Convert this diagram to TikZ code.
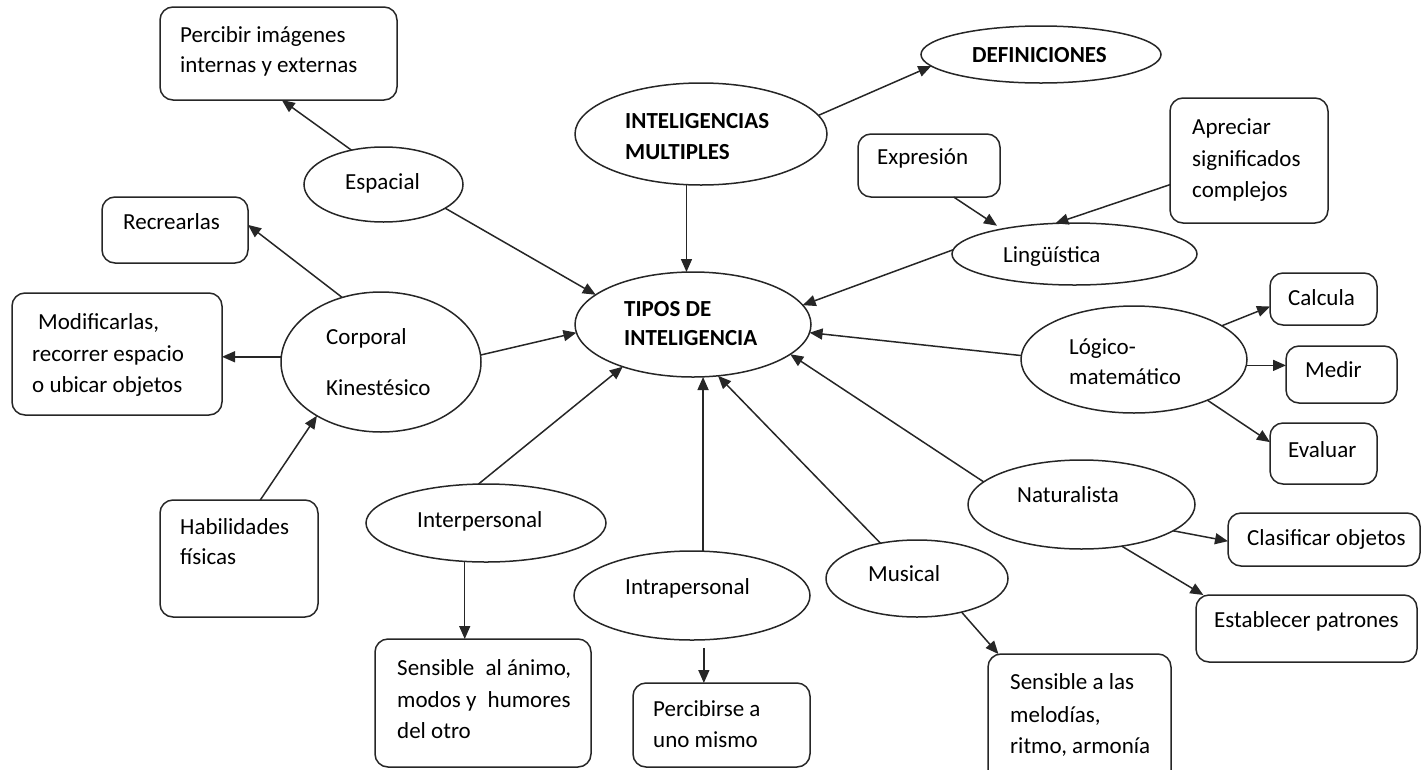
\documentclass[tikz,border=0pt]{standalone}
\usepackage{fontspec}
\setmainfont{Carlito}
\usetikzlibrary{shapes.geometric,arrows.meta,calc}
\begin{document}
\begin{tikzpicture}[x=1pt,y=-1pt,
  shp/.style={draw=black!85,line width=1.5pt,inner sep=0pt,outer sep=0pt},
  ell/.style={shp,ellipse},
  box/.style={shp,rectangle,rounded corners=13pt},
  arr/.style={line width=1.5pt,draw=black!85,-{Triangle[length=13pt,width=11pt]}},
  txt/.style={anchor=base west,inner sep=0pt,font=\fontsize{23}{30}\selectfont},
  btxt/.style={anchor=base west,inner sep=0pt,font=\fontsize{23}{30}\selectfont\bfseries}]
\useasboundingbox (0,0) rectangle (1422,769);
\clip (0,0) rectangle (1422,769);
% shapes
\node[box,minimum width=237pt,minimum height=93pt] (perc) at (278.5,53.5) {};
\node[ell,minimum width=159pt,minimum height=75pt] (esp) at (383.5,184.5) {};
\node[box,minimum width=146pt,minimum height=66pt] (recr) at (175,230) {};
\node[box,minimum width=210pt,minimum height=122pt] (modi) at (117,354) {};
\node[ell,minimum width=200pt,minimum height=140pt] (corp) at (381,362) {};
\node[box,minimum width=158pt,minimum height=117pt] (habi) at (239,558.5) {};
\node[ell,minimum width=252pt,minimum height=102pt] (intm) at (701,134) {};
\node[ell,minimum width=240pt,minimum height=57pt] (defi) at (1041,54.5) {};
\node[box,minimum width=142pt,minimum height=63pt] (expr) at (929,165.5) {};
\node[box,minimum width=158pt,minimum height=125pt] (apre) at (1249,160.5) {};
\node[ell,minimum width=245pt,minimum height=62pt] (ling) at (1074.5,254) {};
\node[ell,minimum width=236pt,minimum height=105pt] (tipos) at (693,324.5) {};
\node[ell,minimum width=240pt,minimum height=78pt] (inter) at (486,523) {};
\node[box,minimum width=216pt,minimum height=128pt] (sensa) at (483,703) {};
\node[ell,minimum width=236pt,minimum height=89pt] (intra) at (692,595.5) {};
\node[box,minimum width=177pt,minimum height=84pt] (percb) at (721.5,725) {};
\node[ell,minimum width=182pt,minimum height=77pt] (musi) at (917,578.5) {};
\node[box,minimum width=183pt,minimum height=146pt] (sensb) at (1079.5,727) {};
\node[ell,minimum width=227pt,minimum height=89pt] (natu) at (1081.5,504.5) {};
\node[box,minimum width=192pt,minimum height=53pt] (clas) at (1324,539.5) {};
\node[box,minimum width=221pt,minimum height=67pt] (esta) at (1306.5,628.5) {};
\node[ell,minimum width=226pt,minimum height=107pt] (logi) at (1134,359.5) {};
\node[box,minimum width=107pt,minimum height=52pt] (calc) at (1323.5,299) {};
\node[box,minimum width=111pt,minimum height=57pt] (medi) at (1341.5,374.5) {};
\node[box,minimum width=107pt,minimum height=61pt] (eval) at (1323.5,453.5) {};
% texts
\node[txt] (tperca) at (180,42) {Percibir imágenes};
\node[txt] (tpercb) at (180,72) {internas y externas};
\node[txt] (tesp) at (345,189) {Espacial};
\node[txt] (trecr) at (123,229) {Recrearlas};
\node[txt] (tmodia) at (38,329) {Modificarlas,};
\node[txt] (tmodib) at (32,361) {recorrer espacio};
\node[txt] (tmodic) at (32,392) {o ubicar objetos};
\node[txt] (tcorpa) at (326,344) {Corporal};
\node[txt] (tcorpb) at (326,395) {Kinestésico};
\node[txt] (thabia) at (180,534) {Habilidades};
\node[txt] (thabib) at (180,564) {físicas};
\node[btxt] (tintma) at (625,128) {INTELIGENCIAS};
\node[btxt] (tintmb) at (625,159) {MULTIPLES};
\node[btxt] (tdefi) at (972,62) {DEFINICIONES};
\node[txt] (texpr) at (877,164) {Expresión};
\node[txt] (taprea) at (1192,134) {Apreciar};
\node[txt] (tapreb) at (1192,166) {significados};
\node[txt] (taprec) at (1192,197) {complejos};
\node[txt] (tling) at (1003,262) {Lingüística};
\node[btxt] (ttiposa) at (624,316) {TIPOS DE};
\node[btxt] (ttiposb) at (624,345) {INTELIGENCIA};
\node[txt] (tlogia) at (1069,354) {Lógico-};
\node[txt] (tlogib) at (1069,384) {matemático};
\node[txt] (tcalc) at (1288,305) {Calcula};
\node[txt] (tmedi) at (1305,377) {Medir};
\node[txt] (teval) at (1288,457) {Evaluar};
\node[txt] (tnatu) at (1017,502) {Naturalista};
\node[txt] (tclas) at (1247,545) {Clasificar objetos};
\node[txt] (testa) at (1214,627) {Establecer patrones};
\node[txt] (tinter) at (417,527) {Interpersonal};
\node[txt] (tsensaa) at (397,675) {Sensible\hspace{6pt} al ánimo,};
\node[txt] (tsensab) at (397,707) {modos y\hspace{6pt} humores};
\node[txt] (tsensac) at (397,738) {del otro};
\node[txt] (tintra) at (625,594) {Intrapersonal};
\node[txt] (tpercba) at (653,716) {Percibirse a};
\node[txt] (tpercbb) at (653,747) {uno mismo};
\node[txt] (tmusi) at (868,581) {Musical};
\node[txt] (tsensba) at (1010,689) {Sensible a las};
\node[txt] (tsensbb) at (1010,722) {melodías,};
\node[txt] (tsensbc) at (1010,753) {ritmo, armonía};
% connectors
\draw[arr] (esp.133.4) -- (perc.-86);
\draw[arr] (corp.121.8) -- (recr.4);
\draw[arr] (corp.177) -- (corp.177 -| modi.east);
\draw[arr] (habi.70.9) -- (corp.220.2);
\draw[arr] (esp.-21.9) -- (tipos.163);
\draw[arr] (corp.4) -- (tipos.184.6);
\draw[arr] (inter.101.6) -- (tipos.211.5);
\draw[arr] (intra.76) -- (intra.76 |- tipos.south);
\draw[arr] (musi.136.8) -- (tipos.-64.5);
\draw[arr] (natu.167.8) -- (tipos.-17.7);
\draw[arr] (logi.178.2) -- (tipos.-4.6);
\draw[arr] (ling.178) -- (tipos.10.4);
\draw[arr] (intm.254.5) -- (intm.254.5 |- tipos.north);
\draw[arr] (intm.9.5) -- (defi.186.5);
\draw[arr,shorten >=6pt] (expr.-52.7) -- (ling.161.4);
\draw[arr] (apre.197.9) -- (ling.122.5);
\draw[arr] (logi.21) -- (calc.188.5);
\draw[arr] (logi.-3.8) -- (logi.-3.8 -| medi.west);
\draw[arr] (logi.-29.3) -- (eval.168.9);
\draw[arr] (inter.241.9) -- (inter.241.9 |- sensa.north);
\draw[arr,shorten <=8pt] (intra.-75) -- (intra.-75 |- percb.north);
\draw[arr] (musi.-37) -- (sensb.138.2);
\draw[arr] (natu.-16.7) -- (clas.181.5);
\draw[arr] (natu.-46.2) -- (esta.162.6);
\end{tikzpicture}
\end{document}
